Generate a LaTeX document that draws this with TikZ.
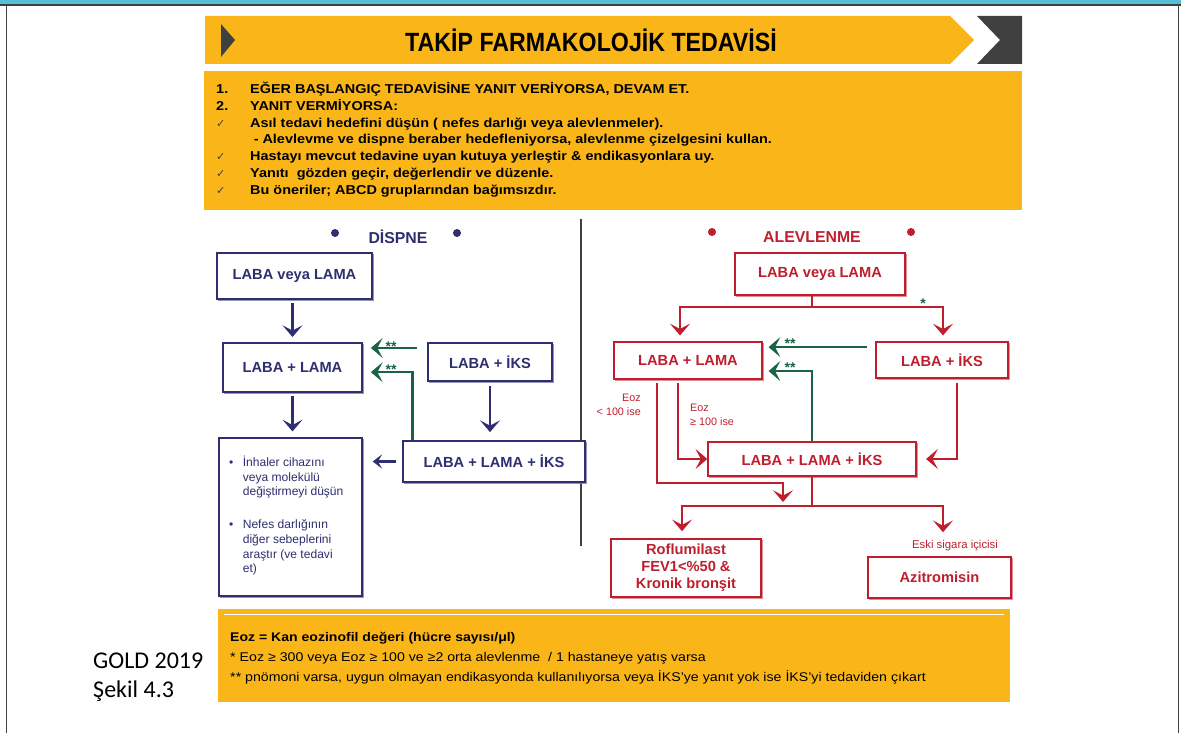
\documentclass[tikz,border=0pt]{standalone}
\usepackage{fontspec}
\setmainfont{Liberation Sans}
\newfontfamily\genis[FakeStretch=1.12]{Liberation Sans}
\newfontfamily\dar[FakeStretch=0.88]{Liberation Sans}
\newfontfamily\goldfont{Carlito}
\newfontfamily\symfont{DejaVu Sans}
\usetikzlibrary{arrows.meta, shadows}

\definecolor{sari}{RGB}{250,182,24}
\definecolor{lacivert}{RGB}{46,46,112}
\definecolor{kirmizi}{RGB}{190,30,45}
\definecolor{yesil}{RGB}{24,100,68}
\definecolor{koyugri}{RGB}{64,64,64}
\definecolor{camgobegi}{RGB}{84,192,214}

\newcommand\kfont{\bfseries\fontsize{12.5}{14.5}\selectfont}
\newcommand\ifont{\genis\bfseries\fontsize{11}{12}\selectfont}
\newcommand\nfont{\genis\fontsize{10.8}{12}\selectfont}
\newcommand\tick{{\symfont\mdseries\fontsize{9.5}{9.5}\selectfont\color{black!75}✓}}

\begin{document}
\begin{tikzpicture}[x=0.03cm, y=-0.03cm,
  alan/.style n args={4}{at={({(#1+#3)/2},{(#2+#4)/2})},
    minimum width={(#3-#1)*0.03cm}, minimum height={(#4-#2)*0.03cm}},
  kutu/.style={draw, line width=1.2pt, fill=white, inner sep=0pt, align=center, font=\kfont,
    copy shadow={shadow xshift=1.3pt, shadow yshift=-1.3pt, opacity=.5}},
  lkutu/.style={kutu, draw=lacivert, text=lacivert},
  rkutu/.style={kutu, draw=kirmizi, text=kirmizi},
  ok/.style={line width=2.2pt, -{Stealth[length=10pt, width=17pt, inset=4.5pt]}},
  lok/.style={ok, draw=lacivert},
  rok/.style={ok, draw=kirmizi},
  gok/.style={ok, draw=yesil},
  yazi/.style={anchor=base west, inner sep=0pt},
  yildiz/.style={anchor=base, inner sep=0pt, text=yesil, font=\bfseries\fontsize{12}{12}\selectfont},
  eoz/.style={inner sep=0pt, text=kirmizi, font=\fontsize{9.2}{12}\selectfont}]
  \useasboundingbox (0,0) rectangle (1181,733);

  \fill[camgobegi] (0,0) rectangle (1181,5);
  \draw[koyugri, line width=1pt] (0,5) -- (1181,5);
  \draw[koyugri, line width=0.8pt] (6.5,5) -- (6.5,733);
  \draw[koyugri, line width=0.8pt] (1178.5,5) -- (1178.5,733);

  \fill[sari] (205,16) -- (950,16) -- (974,40) -- (950,64) -- (205,64) -- cycle;
  \fill[koyugri] (977,16) -- (1022,16) -- (1022,64) -- (977,64) -- (1000,40) -- cycle;
  \fill[koyugri] (221,24) -- (235,40) -- (221,57) -- cycle;
  \node[font=\dar\bfseries\fontsize{22.5}{26}\selectfont] (baslik) at (591,40) {TAKİP FARMAKOLOJİK TEDAVİSİ};

  \fill[sari] (204,71) rectangle (1022,210);
  \foreach \i/\m/\t in {
    0/1./{EĞER BAŞLANGIÇ TEDAVİSİNE YANIT VERİYORSA, DEVAM ET.},
    1/2./{YANIT VERMİYORSA:},
    2/\tick/{Asıl tedavi hedefini düşün ( nefes darlığı veya alevlenmeler).},
    3/{}/{\hspace*{3pt}- Alevlevme ve dispne beraber hedefleniyorsa, alevlenme çizelgesini kullan.},
    4/\tick/{Hastayı mevcut tedavine uyan kutuya yerleştir \& endikasyonlara uy.},
    5/\tick/{Yanıtı~ gözden geçir, değerlendir ve düzenle.},
    6/\tick/{Bu öneriler; ABCD gruplarından bağımsızdır.}}{
    \node[yazi, font=\ifont] (no\i) at (216,93.5+16.8*\i) {\m};
    \node[yazi, font=\ifont] (ad\i) at (250,93.5+16.8*\i) {\t};
  }

  \draw[koyugri, line width=2pt] (581,219) -- (581,546);

  \fill[lacivert] (335,233) circle (4);
  \fill[lacivert] (457,233) circle (4);
  \node[text=lacivert, font=\bfseries\fontsize{13.5}{16}\selectfont] (dispne) at (398,237) {DİSPNE};
  \fill[kirmizi] (712,232) circle (4);
  \fill[kirmizi] (911,232) circle (4);
  \node[text=kirmizi, font=\bfseries\fontsize{13.5}{16}\selectfont] (alev) at (812,237) {ALEVLENME};

  \node[lkutu, alan={217}{253}{372}{299}] (d1) {LABA veya LAMA};
  \node[lkutu, alan={223}{343}{362}{392}] (d2) {LABA + LAMA};
  \node[lkutu, alan={428}{343}{552}{381}] (d3) {LABA + İKS};
  \node[lkutu, alan={403}{441}{585}{482}] (d4) {LABA + LAMA + İKS};
  \node[lkutu, alan={219}{438}{362}{596}] (d5) {};
  \node[anchor=west, inner sep=0pt, text=lacivert, font=\fontsize{10.3}{12.5}\selectfont] (mad1) at (229,478)
    {\begin{tabular}{@{}l@{\hspace{8pt}}l@{}}•&İnhaler cihazını\\&veya molekülü\\&değiştirmeyi düşün\end{tabular}};
  \node[anchor=west, inner sep=0pt, text=lacivert, font=\fontsize{10.3}{12.5}\selectfont] (mad2) at (229,548)
    {\begin{tabular}{@{}l@{\hspace{8pt}}l@{}}•&Nefes darlığının\\&diğer sebeplerini\\&araştır (ve tedavi\\&et)\end{tabular}};

  \draw[lok, shorten <=3pt, shorten >=4.5pt] (d2 |- d1.south) -- (d2.north);
  \draw[lok, shorten <=3pt, shorten >=5pt] (d2.south) -- (d2 |- d5.north);
  \draw[lok, shorten <=4pt, shorten >=7pt] (d3.south) -- (d3 |- d4.north);
  \draw[lok, -{Stealth[length=8pt, width=12pt, inset=3.5pt]}, shorten <=5pt, shorten >=8.5pt] (d4.west) -- (d5.east |- d4.west);
  \draw[gok, shorten <=9pt, shorten >=7pt] ([yshift=12pt]d3.west) -- ([yshift=12pt]d3.west -| d2.east);
  \node[yildiz] (y1) at (391,351) {**};
  \draw[gok, shorten >=7pt] ([xshift=8.5pt]d4.north west) |- ([yshift=-4pt]d2.east);
  \node[yildiz] (y2) at (391,374) {**};

  \node[rkutu, alan={735}{253}{905}{295}] (r1) {LABA veya LAMA};
  \node[rkutu, alan={614}{342}{762}{379}] (r2) {LABA + LAMA};
  \node[rkutu, alan={876}{342}{1008}{378}] (r3) {LABA + İKS};
  \node[rkutu, alan={708}{442}{916}{476}] (r4) {LABA + LAMA + İKS};
  \node[rkutu, alan={611}{539}{761}{597}] (r5) {Roflumilast\\FEV1<\%50 \&\\Kronik bronşit};
  \node[rkutu, alan={868}{557}{1011}{598}] (r6) {Azitromisin};
  \node[text=kirmizi, font=\fontsize{9.7}{12}\selectfont, inner sep=0pt] (eski) at (955,546) {Eski sigara içicisi};

  \draw[rok, shorten >=5pt] (r1.south -| 812,0) |- (680,307) -- (r2.north -| 680,0);
  \draw[rok, shorten >=5pt] (r1.south -| 812,0) |- (943,307) -- (r3.north -| 943,0);
  \node[yildiz] (y3) at (923,308) {*};
  \draw[gok, shorten <=7pt, shorten >=5pt] ([yshift=11pt]r3.west) -- ([yshift=11pt]r3.west -| r2.east);
  \node[yildiz] (y4) at (790,348.5) {**};
  \draw[gok, shorten >=5pt] (r4.north) |- ([yshift=-9pt]r2.east);
  \node[yildiz] (y5) at (790,372.5) {**};

  \node[eoz, anchor=east, align=right] (ez1) at (641,405) {Eoz\\< 100 ise};
  \node[eoz, anchor=west, align=left] (ez2) at (690,415) {Eoz\\≥ 100 ise};
  \coordinate (alt) at (783,502);
  \draw[rok, shorten <=3pt] (r2.south -| 657,0) |- (783,483) -- (alt);
  \draw[rok, shorten <=3pt] (r2.south -| 678,0) |- (r4.west);
  \draw[rok, shorten <=4pt, shorten >=8pt] (r3.south -| 957,0) |- (r4.east);
  \draw[rok, shorten >=6pt] (r4.south) |- (682,506) -- (r5.north -| 682,0);
  \draw[rok, shorten >=7pt] (r4.south) |- (943,506) -- (eski.north -| 943,0);

  \fill[sari] (218,609) rectangle (1010,702);
  \draw[white, line width=0.8pt] (224,614) -- (1004,614);
  \node[yazi, font=\genis\bfseries\fontsize{10.7}{12}\selectfont] (not1) at (230,641) {Eoz = Kan eozinofil değeri (hücre sayısı/μl)};
  \node[yazi, font=\nfont] (not2) at (230,661) {* Eoz ≥ 300 veya Eoz ≥ 100 ve ≥2 orta alevlenme~~/ 1 hastaneye yatış varsa};
  \node[yazi, font=\nfont] (not3) at (230,681) {** pnömoni varsa, uygun olmayan endikasyonda kullanılıyorsa veya İKS’ye yanıt yok ise İKS’yi tedaviden çıkart};

  \node[yazi, font=\goldfont\fontsize{20.5}{24}\selectfont] (gold) at (93,668) {GOLD 2019};
  \node[yazi, font=\goldfont\fontsize{20.5}{24}\selectfont] (sekil) at (93,697) {Şekil 4.3};
\end{tikzpicture}
\end{document}
